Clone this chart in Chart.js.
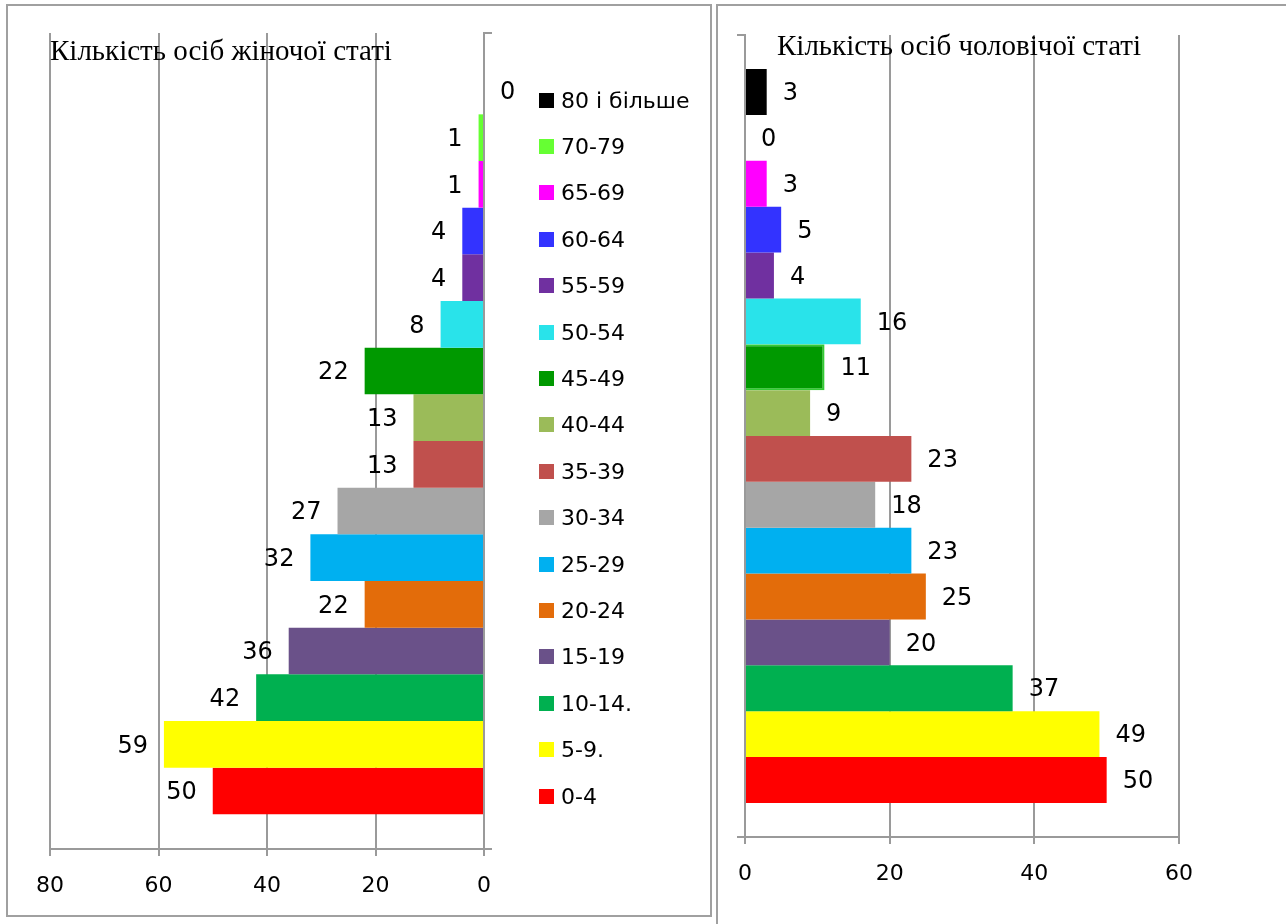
<!DOCTYPE html>
<html>
<head>
<meta charset="utf-8">
<script src="https://cdn.jsdelivr.net/npm/chart.js@4"></script>
<style>
  body { margin: 0; background: #fff; width: 1286px; height: 924px; overflow: hidden; position: relative; }
  .panel { position: absolute; border: 2px solid #a0a0a0; box-sizing: border-box; }
  #femalePanel { left: 6px; top: 4px; width: 706px; height: 913px; }
  #malePanel { left: 716px; top: 4px; width: 580px; height: 930px; }
  canvas { position: absolute; }
  #femaleChart { left: 8px; top: 6px; }
  #maleChart { left: 718px; top: 6px; }
  .chart-title { position: absolute; font-family: "Liberation Serif", "Times New Roman", serif; font-size: 29px; line-height: 29px; color: #000; white-space: nowrap; }
  #femaleTitle { left: 50px; top: 36px; }
  #maleTitle { left: 777px; top: 31px; }
  #legend { position: absolute; left: 539px; top: 77px; font-family: "DejaVu Sans", sans-serif; font-size: 22px; color: #000; }
  .legend-item { height: 46.4px; display: flex; align-items: center; white-space: nowrap; }
  .legend-box { width: 15px; height: 15px; margin-right: 7px; }
</style>
</head>
<body>
<div class="panel" id="femalePanel"></div>
<div class="panel" id="malePanel"></div>
<canvas id="femaleChart" width="702" height="909"></canvas>
<canvas id="maleChart" width="568" height="918"></canvas>
<div class="chart-title" id="femaleTitle">Кількість осіб жіночої статі</div>
<div class="chart-title" id="maleTitle">Кількість осіб чоловічої статі</div>
<div id="legend"></div>

<script>
// Age groups, top to bottom
const ageGroups = ['80 і більше', '70-79', '65-69', '60-64', '55-59', '50-54', '45-49', '40-44',
                   '35-39', '30-34', '25-29', '20-24', '15-19', '10-14.', '5-9.', '0-4'];
const femaleCounts = [0, 1, 1, 4, 4, 8, 22, 13, 13, 27, 32, 22, 36, 42, 59, 50];
const maleCounts = [3, 0, 3, 5, 4, 16, 11, 9, 23, 18, 23, 25, 20, 37, 49, 50];
const groupColors = ['#000000', '#66ff33', '#ff00ff', '#3333ff', '#7030a0', '#29e3ea', '#009900', '#9bbb59',
                     '#c0504d', '#a6a6a6', '#00b0f0', '#e36c0a', '#6a5189', '#00b050', '#ffff00', '#ff0000'];

const gridColor = '#9a9a9a';

// Value labels next to the bar ends
const valueLabels = {
    id: 'valueLabels',
    afterDatasetsDraw(chart) {
        const ctx = chart.ctx;
        ctx.save();
        ctx.font = '24px "DejaVu Sans"';
        ctx.fillStyle = '#000';
        ctx.textBaseline = 'middle';
        chart.data.datasets.forEach((ds, i) => {
            const el = chart.getDatasetMeta(i).data[0];
            const leftward = el.x < el.base;
            ctx.textAlign = leftward ? 'right' : 'left';
            ctx.fillText(ds.data[0], el.x + (leftward ? -16 : 16), el.y + 2);
        });
        ctx.restore();
    }
};

function createPyramidChart(canvasId, counts, max, reverse, yPosition, padding) {
    const datasets = ageGroups.map((group, i) => ({
        label: group,
        data: [counts[i]],
        backgroundColor: groupColors[i],
        borderWidth: 0,
        categoryPercentage: 0.915,
        barPercentage: 1
    }));

    return new Chart(document.getElementById(canvasId), {
        type: 'bar',
        data: { labels: [''], datasets: datasets },
        options: {
            indexAxis: 'y',
            responsive: false,
            animation: false,
            layout: { padding: padding },
            plugins: {
                legend: { display: false },
                tooltip: { enabled: false }
            },
            scales: {
                x: {
                    min: 0,
                    max: max,
                    reverse: reverse,
                    ticks: { stepSize: 20, padding: 17, color: '#000', font: { family: 'DejaVu Sans', size: 22 } },
                    grid: { color: gridColor, lineWidth: 2, tickLength: 7 },
                    border: { color: gridColor, width: 2 },
                    afterFit: scale => { scale.height = 50; }
                },
                y: {
                    position: yPosition,
                    ticks: { display: false },
                    grid: { drawOnChartArea: false, tickLength: 8, color: gridColor, lineWidth: 2 },
                    border: { color: gridColor, width: 2 },
                    afterFit: scale => { scale.width = 8; }
                }
            }
        },
        plugins: [valueLabels]
    });
}

const femaleChart = createPyramidChart('femaleChart', femaleCounts, 80, true, 'right',
    { left: 42, right: 218, top: 27, bottom: 16 });
const maleChart = createPyramidChart('maleChart', maleCounts, 60, false, 'left',
    { left: 19, right: 107, top: 29, bottom: 37 });

// 45-49 bar on the male side has a light green outline
const maleGreen = maleChart.data.datasets[ageGroups.indexOf('45-49')];
maleGreen.borderColor = '#33cc33';
maleGreen.borderWidth = 2;
maleChart.update();

// Legend for the female chart
const legend = document.getElementById('legend');
femaleChart.data.datasets.forEach(ds => {
    legend.innerHTML += `
        <div class="legend-item">
            <span class="legend-box" style="background:${ds.backgroundColor}"></span>
            <span>${ds.label}</span>
        </div>`;
});
</script>
</body>
</html>
